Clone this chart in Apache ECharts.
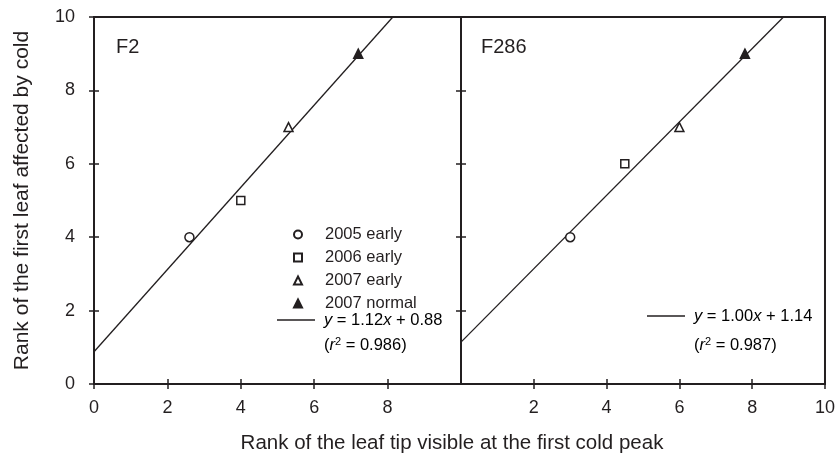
<!DOCTYPE html>
<html>
<head>
<meta charset="utf-8">
<script src="https://cdn.jsdelivr.net/npm/echarts@6/dist/echarts.min.js"></script>
<style>
  html, body { margin: 0; padding: 0; background: #fff; }
  #main { width: 838px; height: 455px; }
</style>
</head>
<body>
<div id="main"></div>
<script>
var panels = ['F2', 'F286'];
var groups = ['2005 early', '2006 early', '2007 early', '2007 normal'];
var symbols = ['circle', 'rect', 'triangle', 'triangle'];
var filled = [false, false, false, true];

// [x, y] per group, per panel
var f2Points = [[2.6, 4], [4.0, 5], [5.3, 7], [7.2, 9]];
var f286Points = [[3.0, 4], [4.5, 6], [6.0, 7], [7.8, 9]];

var slopes = [1.12, 1.00];
var intercepts = [0.88, 1.14];
var r2 = ['0.986', '0.987'];

var xTicks = [0, 2, 4, 6, 8, 10];
var yTicks = [0, 2, 4, 6, 8, 10];

var ink = '#231f20';
var font = 'Liberation Sans, Arial, Helvetica, sans-serif';

var chart = echarts.init(document.getElementById('main'));

var grids = [
    { left: 94, top: 17, width: 367, height: 367, show: true, borderColor: ink, borderWidth: 2 },
    { left: 461, top: 17, width: 367, height: 367, show: true, borderColor: ink, borderWidth: 2 }
];

var xAxes = [];
var yAxes = [];
for (var g = 0; g < 2; g++) {
    // main axis: outside ticks + labels
    xAxes.push({
        type: 'value', gridIndex: g, position: 'bottom',
        min: xTicks[0], max: xTicks[xTicks.length - 1], interval: 2,
        axisLine: { show: true, lineStyle: { color: ink, width: 2 } },
        axisTick: { show: true, length: 5, lineStyle: { color: ink, width: 1.5 } },
        axisLabel: {
            color: ink, fontSize: 18, fontFamily: font, margin: 15,
            showMinLabel: g === 1 ? false : true,
            showMaxLabel: g === 0 ? false : true
        },
        splitLine: { show: false }
    });
    // inside ticks, to make the crossing tick marks
    xAxes.push({
        type: 'value', gridIndex: g, position: 'bottom',
        min: xTicks[0], max: xTicks[xTicks.length - 1], interval: 2,
        axisLine: { show: false },
        axisTick: { show: true, inside: true, length: 5, lineStyle: { color: ink, width: 1.5 } },
        axisLabel: { show: false },
        splitLine: { show: false }
    });
    yAxes.push({
        type: 'value', gridIndex: g, position: 'left',
        min: yTicks[0], max: yTicks[yTicks.length - 1], interval: 2,
        axisLine: { show: true, lineStyle: { color: ink, width: 2 } },
        axisTick: { show: true, length: 5, lineStyle: { color: ink, width: 1.5 } },
        axisLabel: { show: g === 0, color: ink, fontSize: 18, fontFamily: font, margin: 19 },
        splitLine: { show: false },
        name: g === 0 ? 'Rank of the first leaf affected by cold' : '',
        nameLocation: 'middle',
        nameGap: 61,
        nameTextStyle: { color: ink, fontSize: 21, fontFamily: font }
    });
    yAxes.push({
        type: 'value', gridIndex: g, position: 'left',
        min: yTicks[0], max: yTicks[yTicks.length - 1], interval: 2,
        axisLine: { show: false },
        axisTick: { show: true, inside: true, length: 5, lineStyle: { color: ink, width: 1.5 } },
        axisLabel: { show: false },
        splitLine: { show: false }
    });
}

var series = [];
var allPoints = [f2Points, f286Points];
for (var p = 0; p < 2; p++) {
    for (var i = 0; i < groups.length; i++) {
        var big = symbols[i] === 'rect' ? 8 : 9;
        series.push({
            name: groups[i],
            type: 'scatter',
            xAxisIndex: p * 2, yAxisIndex: p * 2,
            symbol: symbols[i],
            symbolSize: big,
            itemStyle: {
                color: filled[i] ? ink : '#fff',
                borderColor: ink,
                borderWidth: 1.5,
                opacity: 1
            },
            z: 5,
            data: [allPoints[p][i]]
        });
    }
    // regression line from slope and intercept, clipped to the y range
    var m = slopes[p], b = intercepts[p];
    var xEnd = (yTicks[yTicks.length - 1] - b) / m;
    series.push({
        name: 'fit ' + panels[p],
        type: 'line',
        xAxisIndex: p * 2, yAxisIndex: p * 2,
        showSymbol: false,
        symbol: 'none',
        lineStyle: { color: ink, width: 1.3 },
        z: 3,
        data: [[0, b], [xEnd, m * xEnd + b]]
    });
}

var richEq = {
    n: { fontSize: 16.5, fontFamily: font, color: ink },
    i: { fontSize: 16.5, fontFamily: font, color: ink, fontStyle: 'italic' },
    sup: { fontSize: 11, fontFamily: font, color: ink, verticalAlign: 'top' }
};

function eqText(p) {
    return '{i|y}{n| = ' + slopes[p].toFixed(2) + '}{i|x}{n| + ' + intercepts[p].toFixed(2) + '}';
}
function r2Text(p) {
    return '{n|(}{i|r}{sup|2}{n| = ' + r2[p] + ')}';
}

var graphics = [
    { type: 'text', left: 116, top: 37, style: { text: panels[0], fontSize: 20, fontFamily: font, fill: ink } },
    { type: 'text', left: 481, top: 37, style: { text: panels[1], fontSize: 20, fontFamily: font, fill: ink } },
    // legend entries for the fitted lines
    { type: 'line', shape: { x1: 277, y1: 320, x2: 315, y2: 320 }, style: { stroke: ink, lineWidth: 1.3 } },
    { type: 'text', x: 324, y: 320, style: { text: eqText(0), rich: richEq, verticalAlign: 'middle' } },
    { type: 'text', x: 324, y: 345, style: { text: r2Text(0), rich: richEq, verticalAlign: 'middle' } },
    { type: 'line', shape: { x1: 647, y1: 316, x2: 685, y2: 316 }, style: { stroke: ink, lineWidth: 1.3 } },
    { type: 'text', x: 694, y: 316, style: { text: eqText(1), rich: richEq, verticalAlign: 'middle' } },
    { type: 'text', x: 694, y: 345, style: { text: r2Text(1), rich: richEq, verticalAlign: 'middle' } },
    // shared x axis title
    { type: 'text', x: 452, y: 443, style: {
        text: 'Rank of the leaf tip visible at the first cold peak',
        fontSize: 20.5, fontFamily: font, fill: ink, align: 'center', verticalAlign: 'middle' } }
];

var legendData = [];
for (var k = 0; k < groups.length; k++) {
    legendData.push({ name: groups[k], icon: symbols[k] });
}

var option = {
    animation: false,
    backgroundColor: '#fff',
    grid: grids,
    xAxis: xAxes,
    yAxis: yAxes,
    legend: {
        data: legendData,
        orient: 'vertical',
        left: 293,
        top: 226,
        padding: 0,
        itemWidth: 8,
        itemHeight: 8,
        itemGap: 6,
        selectedMode: false,
        textStyle: { color: ink, fontSize: 16.5, fontFamily: font, padding: [0, 0, 0, 18] }
    },
    graphic: graphics,
    series: series
};

chart.setOption(option);
</script>
</body>
</html>
